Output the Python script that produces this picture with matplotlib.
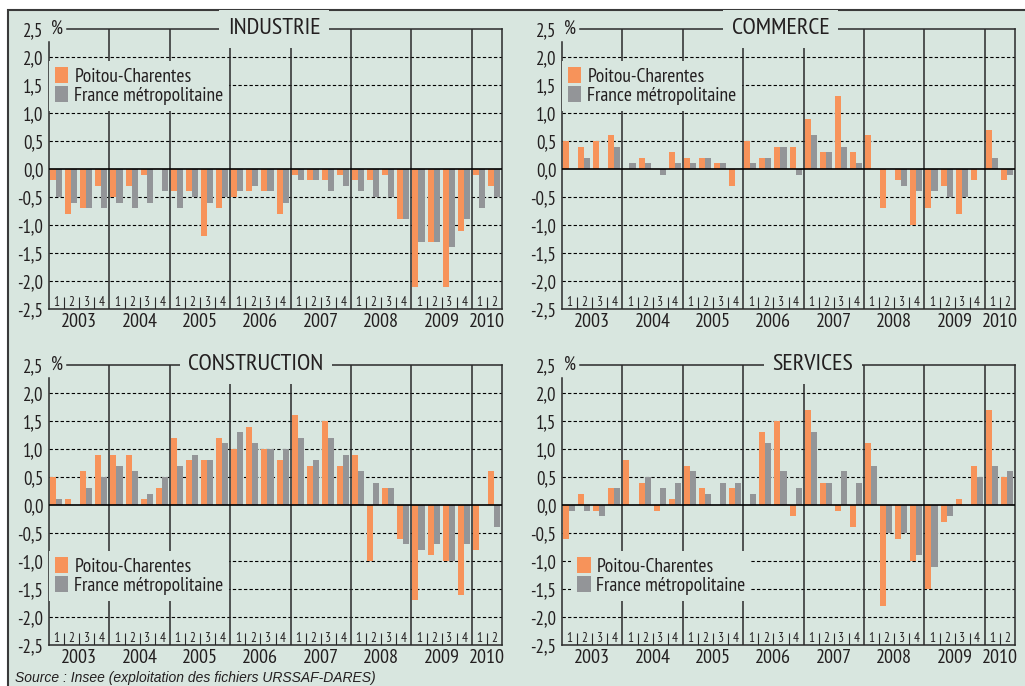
import matplotlib
matplotlib.use('Agg')
import matplotlib.pyplot as plt
import matplotlib.patches as mpatches
import matplotlib.transforms as mtransforms
from matplotlib import font_manager
import numpy as np

# pick a narrow sans close to Arial Narrow if one is there
installed = {f.name for f in font_manager.fontManager.ttflist}
prefs = ['Arial Narrow', 'Liberation Sans Narrow', 'Nimbus Sans Narrow', 'PT Sans Narrow',
         'Roboto Condensed', 'Archivo Narrow', 'Liberation Sans']
family = next(f for f in prefs if f in installed or f == 'Liberation Sans')
plt.rcParams['font.family'] = [family, 'DejaVu Sans']

# quarterly change of salaried employment (%), 2003 Q1 -> 2010 Q2
years = ['2003', '2004', '2005', '2006', '2007', '2008', '2009', '2010']
quarters = ['1', '2', '3', '4'] * 7 + ['1', '2']

industrie_pc = [-0.2, -0.8, -0.7, -0.3, -0.5, -0.3, -0.1, 0.0,
                -0.4, -0.4, -1.2, -0.7, -0.5, -0.4, -0.4, -0.8,
                -0.1, -0.2, -0.2, -0.1, -0.2, -0.2, -0.1, -0.9,
                -2.1, -1.3, -2.1, -1.1, -0.1, -0.3]
industrie_fr = [-0.5, -0.6, -0.7, -0.7, -0.6, -0.7, -0.6, -0.4,
                -0.7, -0.5, -0.6, -0.5, -0.4, -0.3, -0.4, -0.6,
                -0.2, -0.2, -0.4, -0.3, -0.4, -0.5, -0.5, -0.9,
                -1.3, -1.3, -1.4, -0.9, -0.7, -0.5]

commerce_pc = [0.5, 0.4, 0.5, 0.6, 0.0, 0.2, 0.0, 0.3,
               0.2, 0.2, 0.1, -0.3, 0.5, 0.2, 0.4, 0.4,
               0.9, 0.3, 1.3, 0.3, 0.6, -0.7, -0.2, -1.0,
               -0.7, -0.3, -0.8, -0.2, 0.7, -0.2]
commerce_fr = [0.0, 0.2, 0.0, 0.4, 0.1, 0.1, -0.1, 0.1,
               0.1, 0.2, 0.1, 0.0, 0.1, 0.2, 0.4, -0.1,
               0.6, 0.3, 0.4, 0.1, 0.0, 0.0, -0.3, -0.4,
               -0.4, -0.5, -0.5, 0.0, 0.2, -0.1]

construction_pc = [0.5, 0.1, 0.6, 0.9, 0.9, 0.9, 0.1, 0.3,
                   1.2, 0.8, 0.8, 1.2, 1.0, 1.4, 1.0, 0.8,
                   1.6, 0.7, 1.5, 0.7, 0.9, -1.0, 0.3, -0.6,
                   -1.7, -0.9, -1.0, -1.6, -0.8, 0.6]
construction_fr = [0.1, 0.0, 0.3, 0.5, 0.7, 0.6, 0.2, 0.5,
                   0.7, 0.9, 0.8, 1.1, 1.3, 1.1, 1.0, 1.0,
                   1.2, 0.8, 1.2, 0.9, 0.6, 0.4, 0.3, -0.7,
                   -0.8, -0.7, -1.0, -0.7, 0.0, -0.4]

services_pc = [-0.6, 0.2, -0.1, 0.3, 0.8, 0.4, -0.1, 0.1,
               0.7, 0.3, 0.0, 0.3, 0.0, 1.3, 1.5, -0.2,
               1.7, 0.4, -0.1, -0.4, 1.1, -1.8, -0.6, -1.0,
               -1.5, -0.3, 0.1, 0.7, 1.7, 0.5]
services_fr = [-0.1, -0.1, -0.2, 0.3, 0.0, 0.5, 0.3, 0.4,
               0.6, 0.2, 0.4, 0.4, 0.2, 1.1, 0.6, 0.3,
               1.3, 0.4, 0.6, 0.4, 0.7, -0.5, -0.5, -0.9,
               -1.1, -0.2, 0.0, 0.5, 0.7, 0.6]

yticks = [2.0, 1.5, 1.0, 0.5, 0.0, -0.5, -1.0, -1.5, -2.0, -2.5]

ORANGE = '#f7935a'
GREY = '#939598'
BG = '#d8e6df'
INK = '#231f20'

W, H = 1025, 686
fig = plt.figure(figsize=(W / 100, H / 100), dpi=100, facecolor='white')

# greenish frame of the whole figure
frame = mpatches.Rectangle((8 / W, -0.02), 1.02, (H - 10) / H + 0.02, transform=fig.transFigure,
                           facecolor=BG, edgecolor='#3a3a3a', lw=1.5, zorder=-10)
fig.patches.append(frame)

panels = [
    ('INDUSTRIE', industrie_pc, industrie_fr, (49, 29), 0.497, (0.0, 0.885)),
    ('COMMERCE', commerce_pc, commerce_fr, (562, 29), 0.483, (0.0, 0.885)),
    ('CONSTRUCTION', construction_pc, construction_fr, (49, 365), 0.457, (0.0, 0.335)),
    ('SERVICES', services_pc, services_fr, (562, 365), 0.554, (0.02, 0.335)),
]

n = len(quarters)
x = np.arange(n)

for title, pc, fr, (px, py), tx, anchor in panels:
    ax = fig.add_axes([px / W, 1 - (py + 280) / H, 453 / W, 280 / H])
    ax.set_facecolor('none')
    ax.set_xlim(0, n)
    ax.set_ylim(-2.5, 2.5)
    ty = mtransforms.blended_transform_factory(ax.transAxes, ax.transData)
    tr = mtransforms.blended_transform_factory(ax.transData, ax.transAxes)

    # dashed grid, drawn under bars
    for v in yticks:
        if v in (0.0, -2.5):
            continue
        ax.axhline(v, color='black', lw=0.8, ls=(0, (3, 2)), zorder=1)

    ax.bar(x + 0.27, pc, width=0.4, color=ORANGE, zorder=2, label='Poitou-Charentes')
    ax.bar(x + 0.67, fr, width=0.4, color=GREY, zorder=2, label='France métropolitaine')

    ax.axhline(0, color='black', lw=1.2, zorder=3)

    # year separators and quarter ticks
    for k in range(1, n):
        if k % 4 == 0:
            ax.vlines(k, -2.5, 2.5, color='#2a2a2a', lw=1.1, zorder=1)
        else:
            ax.vlines(k, -2.5, -2.29, color='#2a2a2a', lw=0.8, zorder=1)

    for k, q in enumerate(quarters):
        ax.text(k + 0.5, -2.39, q, ha='center', va='center', fontsize=9.5, color=INK)

    for j, yr in enumerate(years):
        start = 4 * j
        end = min(start + 4, n)
        ax.text((start + end) / 2, -0.045, yr, transform=tr, ha='center', va='center',
                fontsize=14.5, color=INK)

    # axes frame
    ax.spines['top'].set_visible(False)
    ax.spines['left'].set_bounds(-2.5, 2.27)
    for s in ('left', 'right', 'bottom'):
        ax.spines[s].set_color('#2a2a2a')
        ax.spines[s].set_linewidth(1.1)
    ax.axhline(2.5, xmin=0.04, xmax=1, color='#2a2a2a', lw=1.1, clip_on=False, zorder=1)

    ax.set_xticks([])
    ax.set_yticks([2.5] + yticks)
    ax.set_yticklabels([f'{v:.1f}'.replace('.', ',') for v in [2.5] + yticks])
    ax.tick_params(axis='y', length=0, pad=4, labelsize=13.5, labelcolor=INK)
    ax.text(0.004, 2.5, '%', transform=ty, ha='left', va='center', fontsize=13.5, color=INK)

    ax.text(tx, 2.5, title, transform=ty, ha='center', va='center', fontsize=17.5, color=INK,
            zorder=6, bbox=dict(boxstyle='square,pad=0.35', facecolor=BG, edgecolor='none'))

    leg = ax.legend(loc='upper left', bbox_to_anchor=anchor, borderaxespad=0, frameon=True,
                    fontsize=14, handlelength=0.7, handleheight=0.85, handletextpad=0.3,
                    labelspacing=0.05, borderpad=0.3, fancybox=False)
    leg.get_frame().set_facecolor(BG)
    leg.get_frame().set_edgecolor('none')
    leg.get_frame().set_alpha(1)
    for t in leg.get_texts():
        t.set_color(INK)

fig.text(15 / W, 1 / H, 'Source : Insee (exploitation des fichiers URSSAF-DARES)',
         ha='left', va='bottom', fontsize=10, style='italic', color=INK,
         family=['Liberation Sans', 'DejaVu Sans'])

fig.savefig('out.png', dpi=100, facecolor='white')
